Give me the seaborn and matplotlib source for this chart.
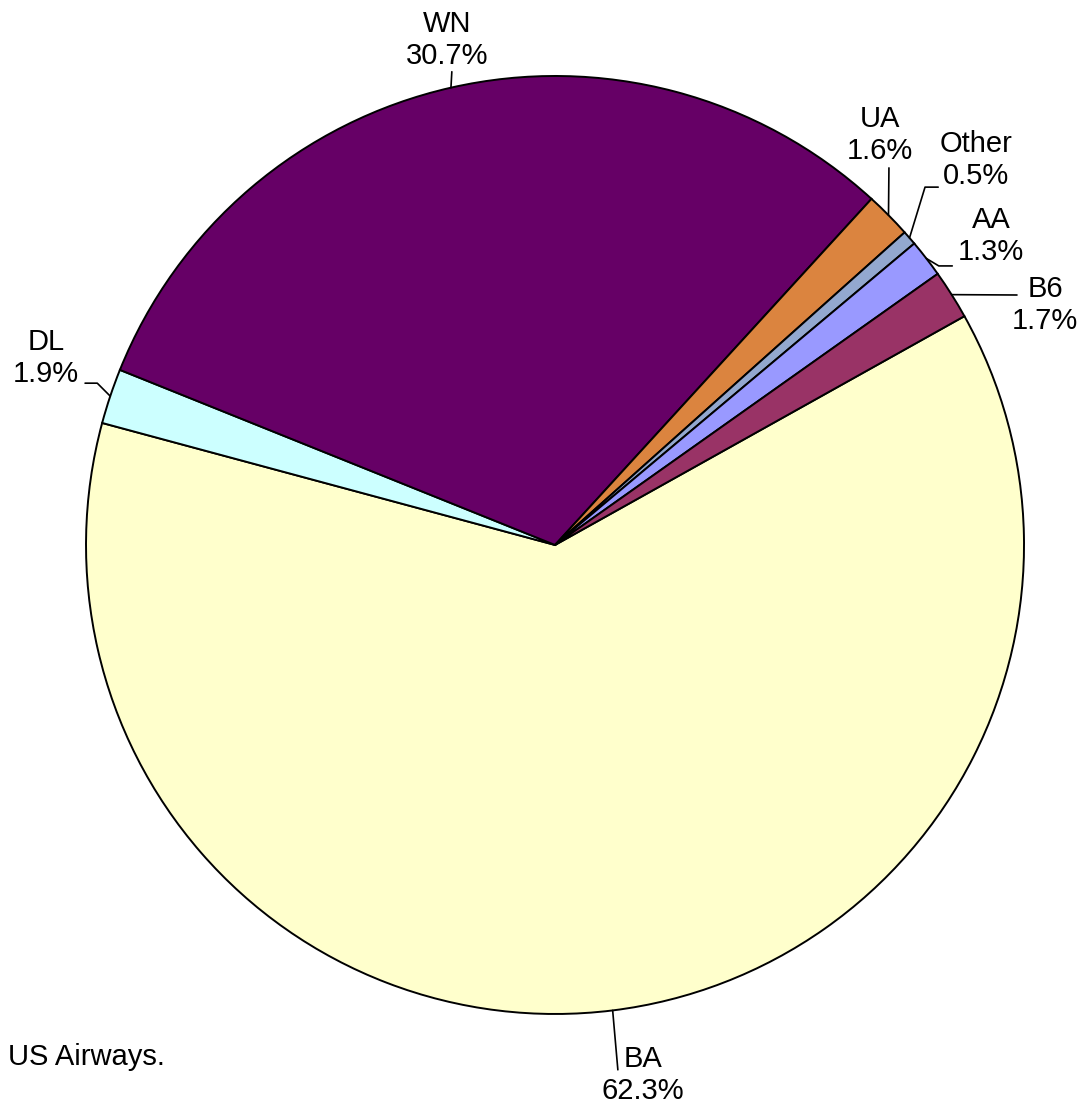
import matplotlib
matplotlib.use("Agg")
import matplotlib.pyplot as plt
import seaborn as sns
import numpy as np

# carrier shares, listed clockwise starting from BA

carriers = ['BA', 'DL', 'WN', 'UA', 'Other', 'AA', 'B6']
shares = [62.3, 1.9, 30.7, 1.6, 0.5, 1.3, 1.7]
colors = ['#FFFFCC', '#CCFFFF', '#660066', '#DB843F', '#93A8CF', '#9999FF', '#993366']

# label layout: text centre, leader end, connection style (data coords, radius = 1)
label_pos = {
    'BA': (0.188, -1.130), 'DL': (-1.085, 0.399), 'WN': (-0.230, 1.077),
    'UA': (0.693, 0.874), 'Other': (0.898, 0.821), 'AA': (0.930, 0.659),
    'B6': (1.045, 0.512),
}
leader_end = {
    'BA': (0.134, -1.119), 'DL': (-1.002, 0.345), 'WN': (-0.220, 1.009),
    'UA': (0.712, 0.804), 'Other': (0.817, 0.763), 'AA': (0.847, 0.595),
    'B6': (0.985, 0.533),
}
leader_style = {
    'BA': 'arc3', 'DL': 'angle,angleA=0,angleB=-45,rad=0', 'WN': 'arc3',
    'UA': 'arc3', 'Other': 'angle,angleA=0,angleB=73,rad=0',
    'AA': 'angle,angleA=0,angleB=-31,rad=0', 'B6': 'arc3',
}

sns.set_theme(style="white")
plt.rcParams['font.family'] = ['Liberation Sans', 'DejaVu Sans']

fig = plt.figure(figsize=(10.78, 11.15), dpi=100)
ax = fig.add_axes([0, 0, 1, 1])

wedges, _ = ax.pie(
    shares, colors=colors, startangle=29.2, counterclock=False,
    wedgeprops={'edgecolor': 'black', 'linewidth': 1.4},
)
ax.set_xlim(-1.1834, 1.1151)
ax.set_ylim(-1.2154, 1.1620)
ax.set_aspect('equal')
ax.axis('off')

# labels with leader lines from the middle of each wedge's rim

for w, name, val in zip(wedges, carriers, shares):
    mid = np.deg2rad((w.theta1 + w.theta2) / 2)
    anchor = (np.cos(mid), np.sin(mid))
    ax.text(*label_pos[name], f"{name}\n{val:.1f}%", ha='center', va='center',
            fontsize=21, color='black', linespacing=1.2)
    ax.annotate("", xy=anchor, xytext=leader_end[name],
                arrowprops=dict(arrowstyle='-', color='black', lw=1.2,
                                shrinkA=0, shrinkB=0,
                                connectionstyle=leader_style[name]))

fig.text(8 / 1078, 1 - 1057 / 1115, "US Airways.", ha='left', va='center',
         fontsize=21, color='black')

fig.savefig("out.png", dpi=100, facecolor='white')
